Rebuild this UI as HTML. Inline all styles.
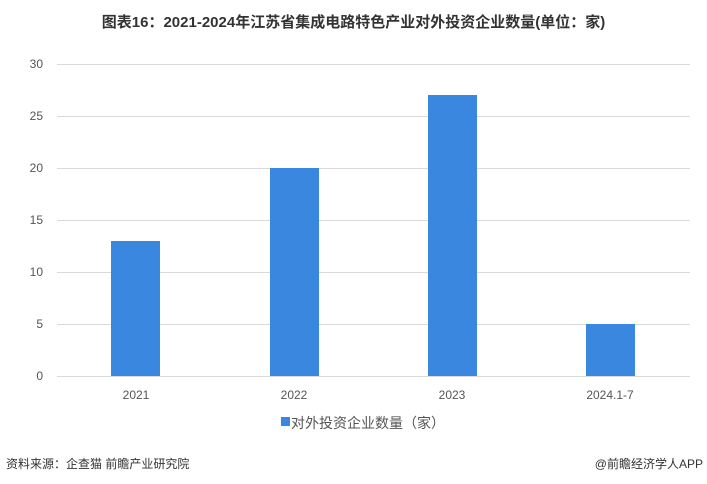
<!DOCTYPE html>
<html><head><meta charset="utf-8"><style>
body{margin:0;width:707px;height:484px;background:#fff;position:relative;overflow:hidden;font-family:"Liberation Sans","Noto Sans CJK SC",sans-serif;color:#444}
.a{position:absolute}
.g{position:absolute;left:57px;width:633px;height:1px;background:#d9d9d9}
.y{position:absolute;left:0;width:43px;text-align:right;font-size:12px;color:#555}
.b{position:absolute;width:49px;background:#3a87e0;bottom:108px}
.x{position:absolute;top:388px;width:100px;text-align:center;font-size:12px;color:#555}
</style></head><body>
<div class="a" style="left:0;width:707px;top:11px;text-align:center;font-size:15px;font-weight:bold;color:#333">图表16：2021-2024年江苏省集成电路特色产业对外投资企业数量(单位：家)</div>
<div class="g" style="top:64px"></div><div class="y" style="top:57px">30</div>
<div class="g" style="top:116px"></div><div class="y" style="top:109px">25</div>
<div class="g" style="top:168px"></div><div class="y" style="top:161px">20</div>
<div class="g" style="top:220px"></div><div class="y" style="top:213px">15</div>
<div class="g" style="top:272px"></div><div class="y" style="top:265px">10</div>
<div class="g" style="top:324px"></div><div class="y" style="top:317px">5</div>
<div class="g" style="top:376px"></div><div class="y" style="top:369px">0</div>
<div class="b" style="left:111px;height:135px"></div>
<div class="b" style="left:270px;height:208px"></div>
<div class="b" style="left:428px;height:281px"></div>
<div class="b" style="left:586px;height:52px"></div>
<div class="x" style="left:86px">2021</div>
<div class="x" style="left:244px">2022</div>
<div class="x" style="left:402px">2023</div>
<div class="x" style="left:560px">2024.1-7</div>
<div class="a" style="left:281px;top:417px;width:9px;height:9px;background:#3a87e0"></div>
<div class="a" style="left:291px;top:413px;font-size:14px;color:#555">对外投资企业数量（家）</div>
<div class="a" style="left:6px;top:455px;font-size:12px;color:#333">资料来源：企查猫 前瞻产业研究院</div>
<div class="a" style="right:4px;top:455px;font-size:12px;color:#333">@前瞻经济学人APP</div>
</body></html>
